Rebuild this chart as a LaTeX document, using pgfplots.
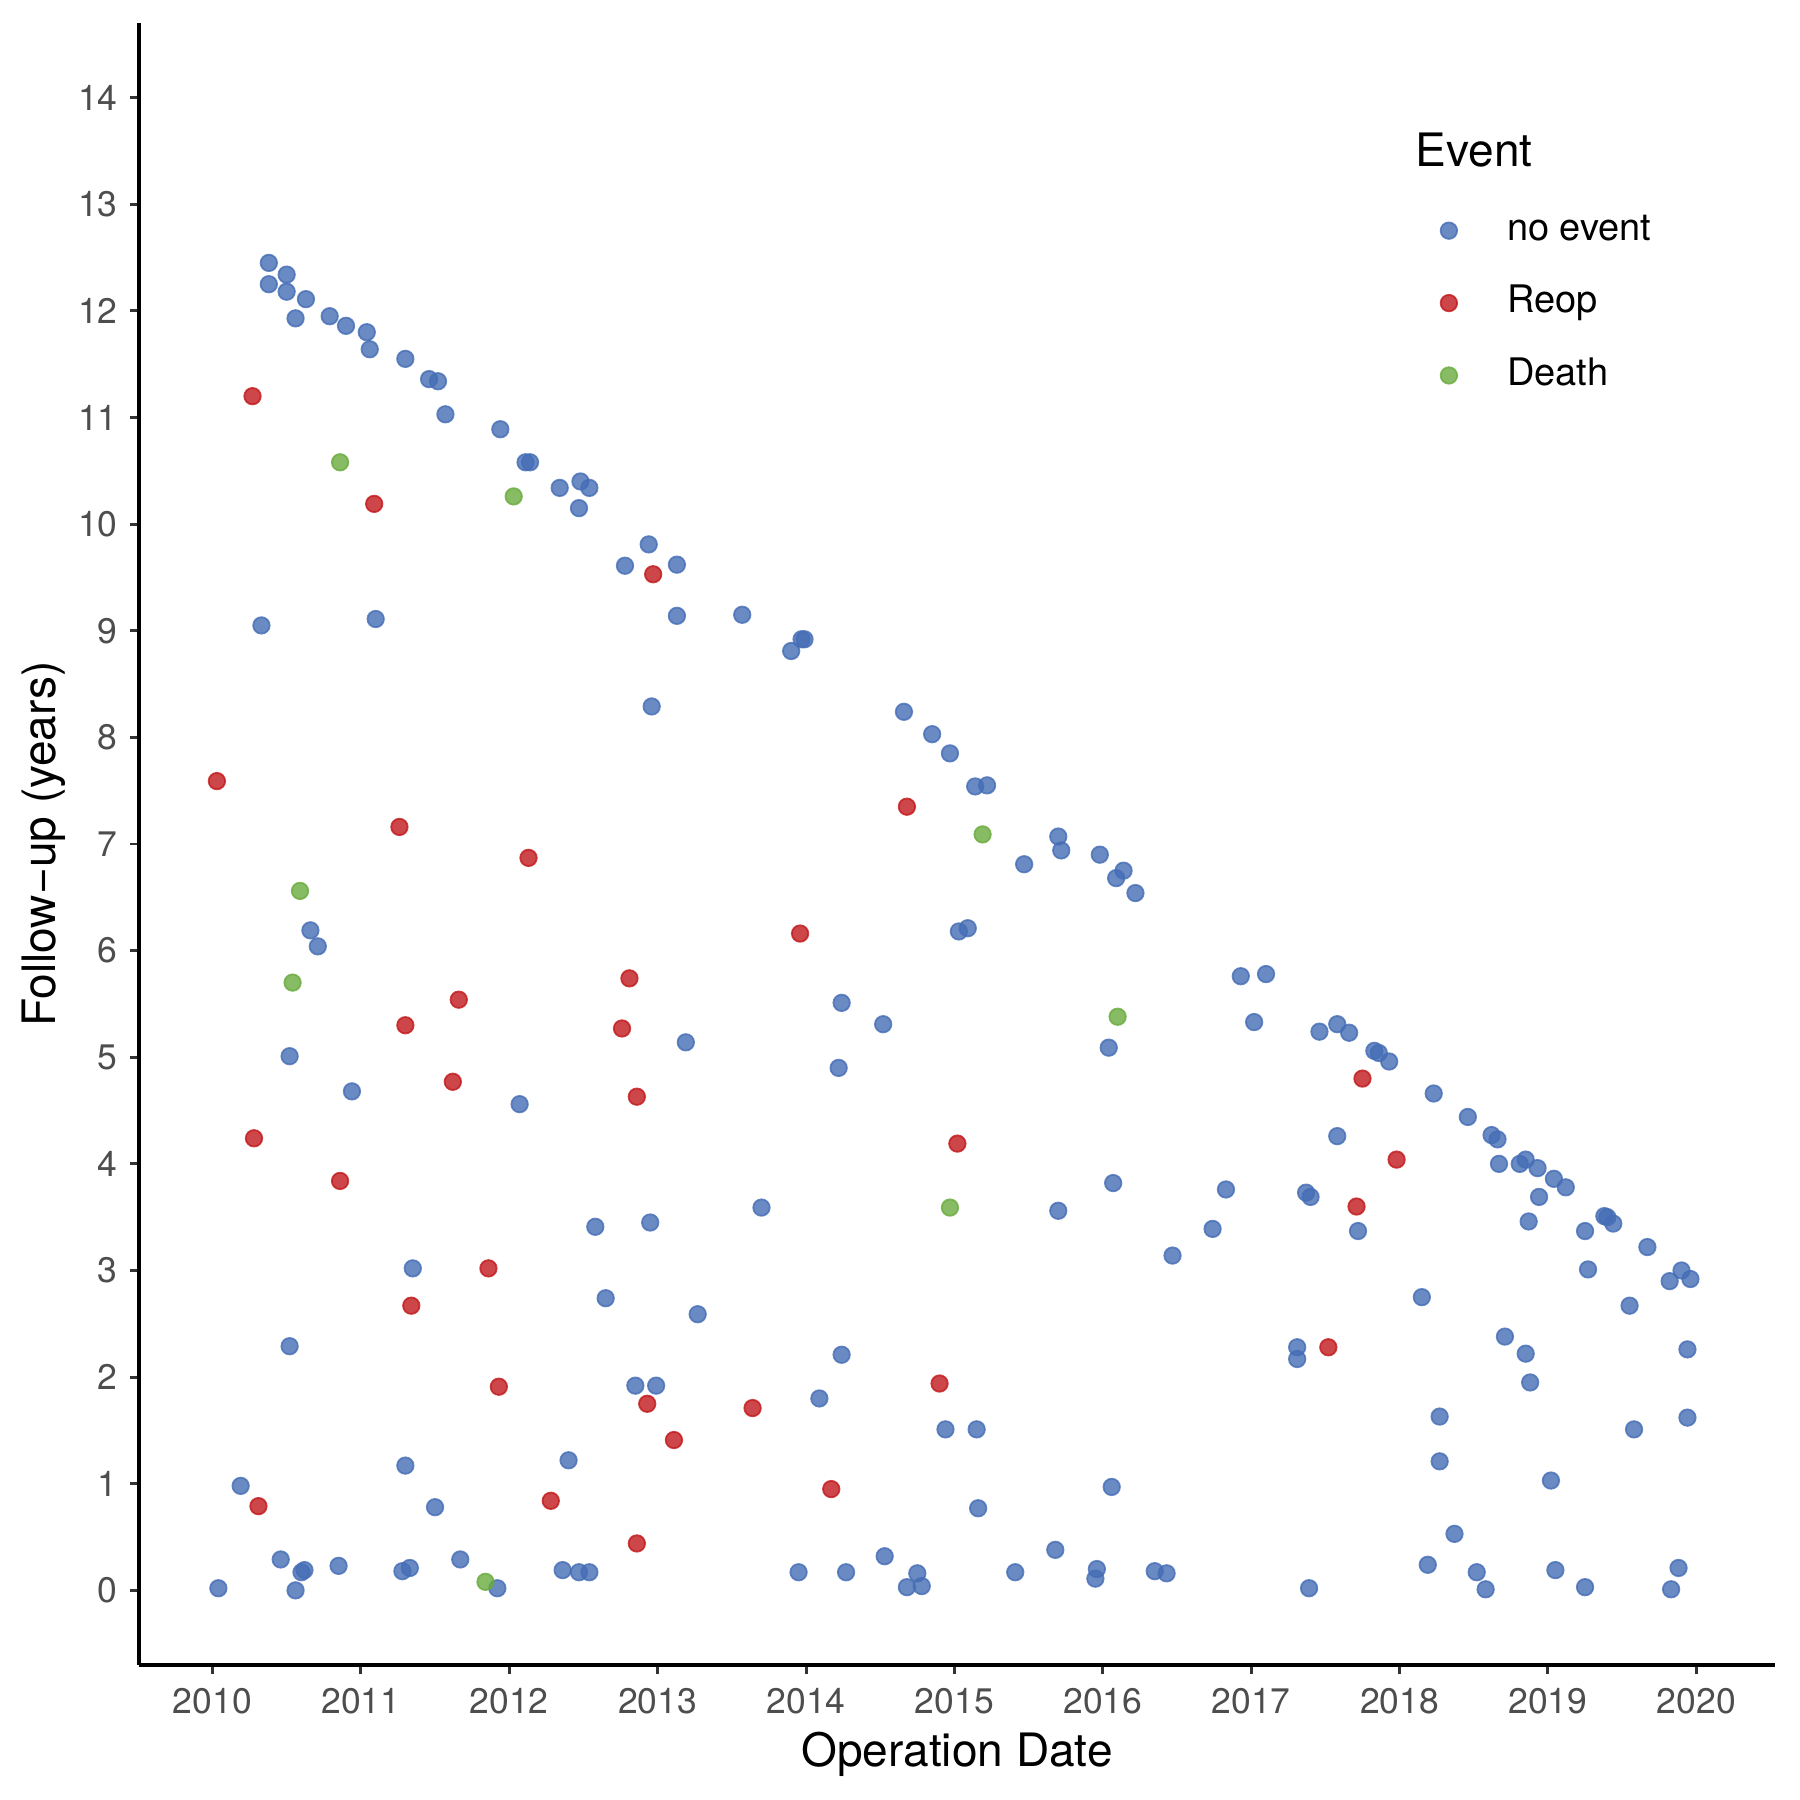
\documentclass[border=0pt]{standalone}
\usepackage{pgfplots}
\pgfplotsset{compat=1.18}
\usepackage{fontspec}
\setmainfont{TeX Gyre Heros}

\definecolor{evblue}{RGB}{69,109,181}
\definecolor{evred}{RGB}{193,24,27}
\definecolor{evgreen}{RGB}{105,171,61}
\definecolor{ticktext}{RGB}{77,77,77}
\definecolor{tickline}{RGB}{51,51,51}

% follow-up by operation date, one table per outcome
\pgfplotstableread{
date fu
2010.04 0.02
2010.19 0.98
2010.38 12.45
2010.38 12.25
2010.33 9.05
2010.50 12.34
2010.50 12.18
2010.56 11.93
2010.63 12.11
2010.46 0.29
2010.56 0.00
2010.60 0.17
2010.62 0.19
2010.52 2.29
2010.52 5.01
2010.66 6.19
2010.71 6.04
2010.79 11.95
2010.90 11.86
2011.04 11.80
2011.06 11.64
2011.10 9.11
2010.94 4.68
2010.85 0.23
2011.30 11.55
2011.46 11.36
2011.52 11.34
2011.57 11.03
2011.30 1.17
2011.28 0.18
2011.33 0.21
2011.35 3.02
2011.50 0.78
2011.67 0.29
2011.94 10.89
2011.92 0.02
2012.11 10.58
2012.14 10.58
2012.07 4.56
2012.34 10.34
2012.48 10.40
2012.47 10.15
2012.54 10.34
2012.36 0.19
2012.40 1.22
2012.47 0.17
2012.54 0.17
2012.58 3.41
2012.65 2.74
2012.78 9.61
2012.94 9.81
2013.13 9.62
2013.13 9.14
2012.96 8.29
2012.85 1.92
2012.99 1.92
2012.95 3.45
2013.19 5.14
2013.27 2.59
2013.57 9.15
2013.90 8.81
2013.97 8.92
2013.99 8.92
2013.70 3.59
2013.95 0.17
2014.09 1.80
2014.24 5.51
2014.22 4.90
2014.24 2.21
2014.27 0.17
2014.53 0.32
2014.52 5.31
2014.66 8.24
2014.85 8.03
2014.97 7.85
2015.14 7.54
2015.22 7.55
2015.03 6.18
2015.09 6.21
2014.94 1.51
2015.15 1.51
2015.16 0.77
2014.68 0.03
2014.75 0.16
2014.78 0.04
2015.41 0.17
2015.47 6.81
2015.70 7.07
2015.72 6.94
2015.70 3.56
2015.68 0.38
2015.98 6.90
2016.14 6.75
2016.09 6.68
2016.22 6.54
2016.04 5.09
2016.07 3.82
2016.06 0.97
2015.96 0.20
2015.95 0.11
2016.35 0.18
2016.43 0.16
2016.47 3.14
2016.74 3.39
2016.83 3.76
2016.93 5.76
2017.10 5.78
2017.02 5.33
2017.31 2.28
2017.31 2.17
2017.37 3.73
2017.40 3.69
2017.39 0.02
2017.46 5.24
2017.58 5.31
2017.66 5.23
2017.58 4.26
2017.72 3.37
2017.83 5.06
2017.86 5.04
2017.93 4.96
2018.23 4.66
2018.15 2.75
2018.27 1.63
2018.27 1.21
2018.37 0.53
2018.19 0.24
2018.46 4.44
2018.62 4.27
2018.66 4.23
2018.67 4.00
2018.81 4.00
2018.85 4.04
2018.93 3.96
2018.94 3.69
2018.87 3.46
2018.71 2.38
2018.85 2.22
2018.88 1.95
2018.52 0.17
2018.58 0.01
2019.04 3.86
2019.12 3.78
2019.02 1.03
2019.05 0.19
2019.25 3.37
2019.27 3.01
2019.25 0.03
2019.38 3.51
2019.40 3.50
2019.44 3.44
2019.55 2.67
2019.58 1.51
2019.67 3.22
2019.82 2.90
2019.90 3.00
2019.96 2.92
2019.94 2.26
2019.94 1.62
2019.88 0.21
2019.83 0.01
}\noevent

\pgfplotstableread{
date fu
2010.03 7.59
2010.27 11.20
2010.28 4.24
2010.31 0.79
2010.86 3.84
2011.09 10.19
2011.26 7.16
2011.30 5.30
2011.34 2.67
2011.62 4.77
2011.66 5.54
2011.86 3.02
2011.93 1.91
2012.13 6.87
2012.28 0.84
2012.76 5.27
2012.81 5.74
2012.86 4.63
2012.86 0.44
2012.97 9.53
2012.93 1.75
2013.11 1.41
2013.64 1.71
2013.96 6.16
2014.17 0.95
2014.68 7.35
2014.90 1.94
2015.02 4.19
2017.52 2.28
2017.71 3.60
2017.75 4.80
2017.98 4.04
}\reop

\pgfplotstableread{
date fu
2010.86 10.58
2010.59 6.56
2010.54 5.70
2011.84 0.08
2012.03 10.26
2014.97 3.59
2015.19 7.09
2016.10 5.38
}\death

\begin{document}
\begin{tikzpicture}
\useasboundingbox (-1.39cm,-1.35cm) rectangle (16.61cm,16.65cm);
\begin{axis}[
  at={(0,0)}, anchor=south west, scale only axis,
  width=16.36cm, height=16.42cm,
  xmin=2009.505, xmax=2020.53, ymin=-0.7, ymax=14.7,
  axis x line*=bottom, axis y line*=left,
  axis line style={line width=1.1pt, black, -},
  xtick={2010,2011,...,2020}, ytick={0,1,...,14},
  tick align=outside, major tick length=0.09cm,
  tick style={line width=0.85pt, color=tickline},
  /pgf/number format/assume math mode=true,
  /pgf/number format/1000 sep={},
  ticklabel style={font=\fontsize{10.1}{12}\selectfont, color=ticktext},
  xticklabel style={yshift=-0.02cm},
  xlabel={Operation Date}, ylabel={Follow−up (years)},
  label style={font=\fontsize{13.1}{15}\selectfont, color=black},
  xlabel style={at={(axis description cs:0.5,-0.0619)}, anchor=base},
  ylabel style={at={(axis description cs:-0.0513,0.5)}, anchor=base},
  legend cell align=left,
  legend image code/.code={\draw[#1] plot coordinates {(0cm,0cm)};},
  legend style={at={(axis description cs:0.7952,0.8852)}, anchor=north west,
    draw=none, fill=none, inner sep=0pt, row sep=0.355cm,
    font=\fontsize{10.8}{13}\selectfont,
    nodes={inner sep=0pt, text height=8pt, text depth=2.5pt},
    /tikz/every odd column/.append style={column sep=0.5cm}},
]
\addplot[only marks, mark=*, mark size=2.35pt,
  mark options={fill=evblue, draw=evblue, line width=0.5pt, opacity=0.8}]
  table[x=date, y=fu] {\noevent};
\addlegendentry{no event}
\addplot[only marks, mark=*, mark size=2.35pt,
  mark options={fill=evred, draw=evred, line width=0.5pt, opacity=0.8}]
  table[x=date, y=fu] {\reop};
\addlegendentry{Reop}
\addplot[only marks, mark=*, mark size=2.35pt,
  mark options={fill=evgreen, draw=evgreen, line width=0.5pt, opacity=0.8}]
  table[x=date, y=fu] {\death};
\addlegendentry{Death}
\node[anchor=base west, font=\fontsize{13.1}{15}\selectfont, inner sep=0pt]
  at (axis description cs:0.7800,0.9125) {Event};
\end{axis}
\end{tikzpicture}
\end{document}
